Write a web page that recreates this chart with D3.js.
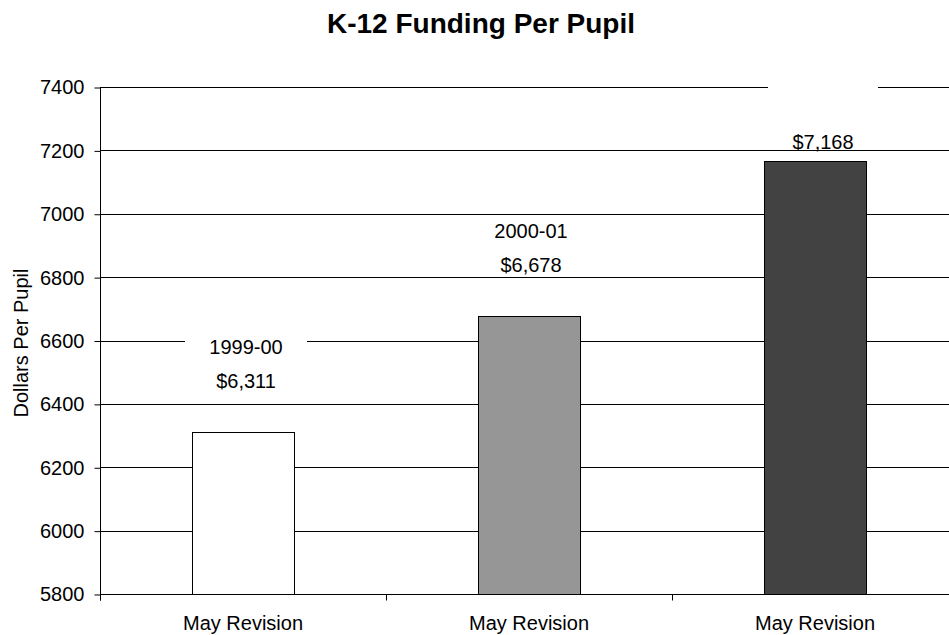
<!DOCTYPE html>
<html>
<head>
<meta charset="utf-8">
<script src="https://cdn.jsdelivr.net/npm/d3@7"></script>
<style>
  body { margin: 0; background: #fff; }
  svg { display: block; font-family: Arial, "Liberation Sans", sans-serif; }
</style>
</head>
<body>
<div class="chart"></div>
<script>
// data
const categories = ["May Revision", "May Revision", "May Revision"];
const years = ["1999-00", "2000-01", ""];
const values = [6311, 6678, 7168];
const fills = ["#ffffff", "#969696", "#424242"];
const yTicks = [5800, 6000, 6200, 6400, 6600, 6800, 7000, 7200, 7400];

const width = 949, height = 635;
const margin = {top: 87, left: 100, bottom: 41};
const plotRight = 958; // plot runs a little past the window edge

const svg = d3.select(".chart").append("svg")
    .attr("width", width)
    .attr("height", height);

const x = d3.scaleBand()
    .domain(d3.range(categories.length))
    .range([margin.left, plotRight])
    .padding(0);

const y = d3.scaleLinear()
    .domain([5800, 7400])
    .range([height - margin.bottom, margin.top]);

const barW = x.bandwidth() * 0.358;

// title
svg.append("text")
    .attr("x", 481)
    .attr("y", 33)
    .attr("text-anchor", "middle")
    .style("font-size", "28px")
    .style("font-weight", "bold")
    .text("K-12 Funding Per Pupil");

// gridlines
svg.append("g")
  .selectAll("line")
    .data(yTicks)
  .enter().append("line")
    .attr("x1", margin.left)
    .attr("x2", plotRight)
    .attr("y1", d => Math.round(y(d)) + 0.5)
    .attr("y2", d => Math.round(y(d)) + 0.5)
    .attr("stroke", "#000")
    .attr("stroke-width", 1);

// y axis
const yAxis = svg.append("g")
    .attr("transform", "translate(" + (margin.left + 0.5) + ",0.5)")
    .call(d3.axisLeft(y).tickValues(yTicks).tickSize(6).tickPadding(10).tickFormat(d3.format("d")));
yAxis.select(".domain").attr("d", "M0," + Math.round(y(7400)) + "V" + (Math.round(y(5800)) + 6));
yAxis.selectAll(".tick line").attr("stroke", "#000");
yAxis.selectAll(".tick text")
    .style("font-size", "20px")
    .style("font-family", "Arial, 'Liberation Sans', sans-serif")
    .attr("fill", "#000");

// x axis (ticks sit on the category boundaries)
const baseY = Math.round(y(5800)) + 0.5;
svg.append("line")
    .attr("x1", margin.left).attr("x2", plotRight)
    .attr("y1", baseY).attr("y2", baseY)
    .attr("stroke", "#000");
svg.append("g")
  .selectAll("line")
    .data(d3.range(categories.length + 1))
  .enter().append("line")
    .attr("x1", d => Math.round(margin.left + d * x.step()) + 0.5)
    .attr("x2", d => Math.round(margin.left + d * x.step()) + 0.5)
    .attr("y1", baseY)
    .attr("y2", baseY + 6)
    .attr("stroke", "#000");

svg.append("g")
  .selectAll("text")
    .data(categories)
  .enter().append("text")
    .attr("x", (d, i) => x(i) + x.bandwidth() / 2)
    .attr("y", 630)
    .attr("text-anchor", "middle")
    .style("font-size", "20px")
    .text(d => d);

// y axis title
svg.append("text")
    .attr("transform", "translate(28,343) rotate(-90)")
    .attr("text-anchor", "middle")
    .style("font-size", "20px")
    .text("Dollars Per Pupil");

// bars
svg.append("g")
  .selectAll("rect")
    .data(values)
  .enter().append("rect")
    .attr("x", (d, i) => Math.round(x(i) + x.bandwidth() / 2 - barW / 2) + 0.5)
    .attr("y", d => Math.round(y(d)) + 0.5)
    .attr("width", Math.round(barW))
    .attr("height", d => Math.round(y(5800)) - Math.round(y(d)))
    .attr("fill", (d, i) => fills[i])
    .attr("stroke", "#000")
    .attr("stroke-width", 1);

// data labels: year line with white fill, value line under it
const labelDx = [3, 2, 8];
const labelW = [122, 110, 110];
// Excel pushed the last label down; only its blank box shows at the top
const valueY = d => Math.max(margin.top + 62, y(d) - 44);
const boxY = (d, i) => years[i] ? -55 : (margin.top - 10) - valueY(d);

const labels = svg.append("g")
  .selectAll("g")
    .data(values)
  .enter().append("g")
    .attr("transform", (d, i) => "translate(" + (x(i) + x.bandwidth() / 2 + labelDx[i]) + "," + valueY(d) + ")");

labels.append("rect")
    .attr("x", (d, i) => -labelW[i] / 2)
    .attr("y", boxY)
    .attr("width", (d, i) => labelW[i])
    .attr("height", 22)
    .attr("fill", "#fff");

labels.append("text")
    .attr("y", -34)
    .attr("text-anchor", "middle")
    .style("font-size", "20px")
    .text((d, i) => years[i]);

labels.append("text")
    .attr("text-anchor", "middle")
    .style("font-size", "20px")
    .text(d => "$" + d3.format(",")(d));
</script>
</body>
</html>
